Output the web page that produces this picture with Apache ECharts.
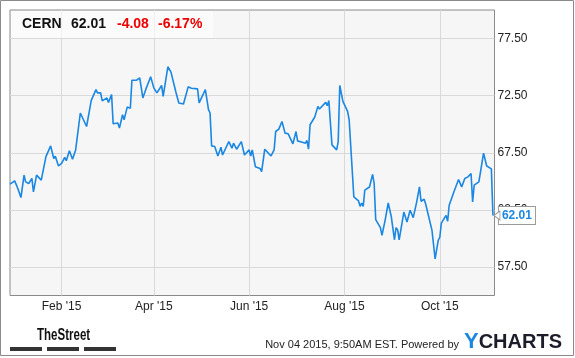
<!DOCTYPE html>
<html><head><meta charset="utf-8">
<script src="https://cdn.jsdelivr.net/npm/echarts@6/dist/echarts.min.js"></script>
<style>html,body{margin:0;padding:0;background:#fff}#c{width:575px;height:358px}</style>
</head><body><div id="c"></div>
<script>
var ticker = 'CERN', lastPrice = '62.01', change = '-4.08', changePct = '-6.17%';
var dates = ['2014-12-30','2015-01-02','2015-01-04','2015-01-06','2015-01-08','2015-01-09','2015-01-11','2015-01-13','2015-01-14','2015-01-16','2015-01-19','2015-01-20','2015-01-22','2015-01-23','2015-01-25','2015-01-27','2015-01-28','2015-01-30',
'2015-02-01','2015-02-03','2015-02-04','2015-02-06','2015-02-08','2015-02-10','2015-02-13','2015-02-17','2015-02-20','2015-02-23','2015-02-24','2015-02-26','2015-02-27',
'2015-03-02','2015-03-03','2015-03-05','2015-03-06','2015-03-09','2015-03-10','2015-03-12','2015-03-13','2015-03-15','2015-03-17','2015-03-18','2015-03-21','2015-03-23','2015-03-25','2015-03-27','2015-03-30',
'2015-04-01','2015-04-03','2015-04-06','2015-04-07','2015-04-10','2015-04-12','2015-04-15','2015-04-17','2015-04-20','2015-04-23','2015-04-25','2015-04-29','2015-04-30',
'2015-05-04','2015-05-06','2015-05-07','2015-05-08','2015-05-10','2015-05-12','2015-05-14','2015-05-15','2015-05-19','2015-05-21','2015-05-22','2015-05-24','2015-05-27','2015-05-29',
'2015-06-01','2015-06-02','2015-06-03','2015-06-05','2015-06-08','2015-06-09','2015-06-11','2015-06-12','2015-06-15','2015-06-17','2015-06-18','2015-06-20','2015-06-22','2015-06-24','2015-06-26','2015-06-29',
'2015-07-01','2015-07-02','2015-07-05','2015-07-07','2015-07-08','2015-07-09','2015-07-10','2015-07-13','2015-07-15','2015-07-16','2015-07-17','2015-07-20','2015-07-21','2015-07-22','2015-07-24','2015-07-27','2015-07-28','2015-07-29','2015-07-31',
'2015-08-03','2015-08-04','2015-08-07','2015-08-10','2015-08-11','2015-08-12','2015-08-13','2015-08-14','2015-08-17','2015-08-19','2015-08-20','2015-08-21','2015-08-24','2015-08-25','2015-08-27','2015-08-28','2015-08-29','2015-08-31',
'2015-09-02','2015-09-03','2015-09-04','2015-09-05','2015-09-08','2015-09-10','2015-09-12','2015-09-14','2015-09-16','2015-09-18','2015-09-19','2015-09-21','2015-09-22','2015-09-23','2015-09-26','2015-09-28','2015-09-30',
'2015-10-01','2015-10-02','2015-10-05','2015-10-06','2015-10-07','2015-10-10','2015-10-13','2015-10-15','2015-10-17','2015-10-19','2015-10-21','2015-10-22','2015-10-23','2015-10-26','2015-10-29','2015-10-30','2015-10-31',
'2015-11-03','2015-11-04'];
var prices = [64.75,65.04,64.37,63.58,65.54,64.95,64.81,65.25,64.07,65.54,65.10,64.95,67.16,67.30,68.10,67.00,67.20,66.34,
66.57,67.10,66.80,67.68,66.93,67.75,70.98,69.80,72.09,73.03,72.74,72.74,72.04,
72.30,71.91,72.59,70.04,70.10,69.66,70.83,70.39,71.50,71.40,73.85,73.85,74.06,72.30,73.09,74.15,
73.18,72.74,73.39,72.44,75.03,74.56,72.88,71.86,71.77,73.27,73.15,73.09,71.86,
73.03,71.27,70.98,68.10,68.04,67.22,67.98,67.30,68.48,67.90,68.34,67.81,68.48,67.30,
67.75,67.22,67.75,66.28,66.13,65.84,67.81,67.90,67.22,67.75,69.36,69.57,70.24,69.22,69.16,68.28,
69.36,68.54,68.42,68.34,68.57,67.81,69.95,70.63,71.56,71.33,71.42,71.91,71.62,72.06,68.19,67.75,68.48,73.39,72.00,
71.12,70.39,63.63,63.28,62.81,63.10,62.81,64.22,64.50,65.60,64.81,61.64,60.94,60.26,61.58,61.43,63.10,61.87,
59.88,60.94,60.76,59.88,62.31,61.43,62.46,61.82,63.05,64.51,63.25,63.43,62.99,62.90,60.70,58.20,59.82,
60.10,61.34,62.02,61.49,62.90,64.07,65.16,64.51,65.25,65.39,65.69,63.19,64.66,64.95,67.46,67.30,66.34,
66.09,62.01];
var xTickDates = ['2015-02-01','2015-04-01','2015-06-01','2015-08-01','2015-10-01'];
var yTicks = [57.5, 62.5, 67.5, 72.5, 77.5];
var xRange = ['2014-12-30','2015-11-05'];
var yRange = [55, 80];
var footerText = 'Nov 04 2015, 9:50AM EST. Powered by';

var MONTHS = ['Jan','Feb','Mar','Apr','May','Jun','Jul','Aug','Sep','Oct','Nov','Dec'];
function ts(s){ var p = s.split('-'); return Date.UTC(+p[0], +p[1] - 1, +p[2]); }
var xTicks = xTickDates.map(ts);
var seriesData = dates.map(function(d,i){ return [ts(d), prices[i]]; });
var lineColor = '#1a87e3';
var font = '"Liberation Sans", Arial, sans-serif';

var chart = echarts.init(document.getElementById('c'), null, {renderer:'canvas'});
chart.setOption({
  animation: false,
  backgroundColor: '#fff',
  grid: {left: 10, top: 10, right: 80.5, bottom: 62.5, show: true, backgroundColor: '#f6f6f6', borderColor: '#8a8a8a', borderWidth: 1},
  xAxis: {
    type: 'value', min: ts(xRange[0]), max: ts(xRange[1]),
    axisLine: {show: false}, axisTick: {show: false, customValues: xTicks},
    axisLabel: {customValues: xTicks, margin: 5, color: '#222', fontSize: 12, fontFamily: font,
      formatter: function(v){ var d = new Date(v); return MONTHS[d.getUTCMonth()] + " '" + String(d.getUTCFullYear()).slice(2); }},
    splitLine: {show: true, lineStyle: {color: '#d9d9d9', width: 1}}
  },
  yAxis: {
    type: 'value', position: 'right', min: yRange[0], max: yRange[1],
    axisLine: {show: false}, axisTick: {show: false, customValues: yTicks},
    axisLabel: {customValues: yTicks, margin: 3, color: '#222', fontSize: 12, fontFamily: font,
      formatter: function(v){ return v.toFixed(2); }},
    splitLine: {show: true, lineStyle: {color: '#d9d9d9', width: 1}}
  },
  series: [{
    type: 'line', data: seriesData, showSymbol: false, symbol: 'none',
    lineStyle: {color: lineColor, width: 1.6}, itemStyle: {color: lineColor},
    endLabel: {show: true, distance: 6, formatter: function(){ return lastPrice; },
      backgroundColor: '#fff', borderColor: '#9a9a9a', borderWidth: 1, padding: [3, 3, 2, 3],
      color: lineColor, fontWeight: 'bold', fontSize: 12, fontFamily: font},
    markPoint: {silent: true, symbol: 'path://M0,5 L6,0 L6,10 Z', symbolSize: [6, 9], symbolOffset: [4, 0],
      itemStyle: {color: '#fff', borderColor: '#9a9a9a', borderWidth: 1}, label: {show: false},
      data: [{coord: seriesData[seriesData.length - 1]}]}
  }],
  graphic: [
    {type: 'rect', z: 100, silent: true, shape: {x: 0.5, y: 0.5, width: 573, height: 355}, style: {fill: 'none', stroke: '#8a8a8a', lineWidth: 1}},
    {type: 'rect', z: 10, shape: {x: 11, y: 11, width: 202, height: 27}, style: {fill: 'rgba(255,255,255,0.6)'}},
    {type: 'text', z: 11, x: 22, y: 24, style: {text: ticker, fill: '#111', font: 'bold 14px ' + font, verticalAlign: 'middle'}},
    {type: 'text', z: 11, x: 71, y: 24, style: {text: lastPrice, fill: '#111', font: 'bold 14px ' + font, verticalAlign: 'middle'}},
    {type: 'text', z: 11, x: 117, y: 24, style: {text: change, fill: '#ee0000', font: 'bold 14px ' + font, verticalAlign: 'middle'}},
    {type: 'text', z: 11, x: 158, y: 24, style: {text: changePct, fill: '#ee0000', font: 'bold 14px ' + font, verticalAlign: 'middle'}},
    {type: 'text', z: 11, x: 37, y: 336, scaleX: 0.72, style: {text: 'TheStreet', fill: '#111', font: 'bold 16px ' + font, verticalAlign: 'middle'}},
    {type: 'rect', z: 11, shape: {x: 10, y: 347, width: 32, height: 4}, style: {fill: '#333'}},
    {type: 'rect', z: 11, shape: {x: 47, y: 347, width: 32, height: 4}, style: {fill: '#333'}},
    {type: 'rect', z: 11, shape: {x: 84, y: 347, width: 32, height: 4}, style: {fill: '#333'}},
    {type: 'text', z: 11, x: 459, y: 345, style: {text: footerText, fill: '#222', font: '11px ' + font, align: 'right', verticalAlign: 'middle'}},
    {type: 'text', z: 11, x: 464, y: 342, style: {text: '{y|Y}{c|CHARTS}', verticalAlign: 'middle',
      rich: {y: {fill: '#1a87e3', font: 'bold 22px ' + font}, c: {fill: '#1c1c2a', font: 'bold 20px ' + font}}}}
  ]
});
</script></body></html>
